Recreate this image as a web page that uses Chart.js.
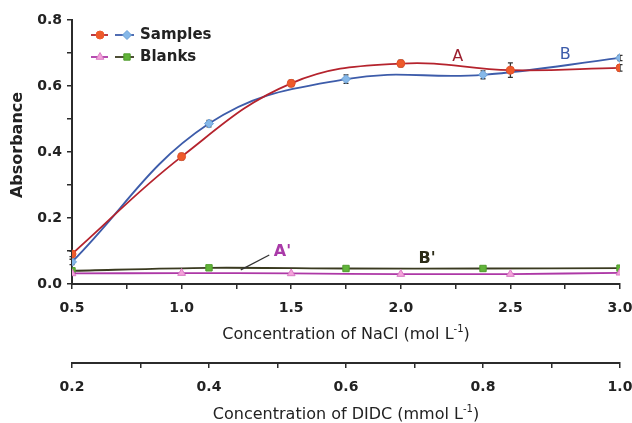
<!DOCTYPE html>
<html><head><meta charset="utf-8">
<script src="https://cdn.jsdelivr.net/npm/chart.js@4.4.0/dist/chart.umd.min.js"></script>
<style>html,body{margin:0;padding:0;background:#fff}#wrap{width:632px;height:423px;position:relative}</style>
</head><body><div id="wrap"><canvas id="c" width="632" height="423"></canvas></div>
<script>
// ---- data ----
const naclConc = [0.5, 1.0, 1.5, 2.0, 2.5, 3.0];          // NaCl, mol L-1 (series A, A')
const didcConc = [0.2, 0.4, 0.6, 0.8, 1.0];                // DIDC, mmol L-1 (series B, B')
const samplesA = [0.091, 0.386, 0.608, 0.668, 0.648, 0.655];
const errA     = [0.008, 0.010, 0.010, 0.010, 0.022, 0.010];
const samplesB = [0.067, 0.486, 0.621, 0.634, 0.685];
const errB     = [0.008, 0.010, 0.013, 0.012, 0.008];
const blanksA  = [0.032, 0.033, 0.032, 0.030, 0.030, 0.034];
const blanksB  = [0.040, 0.049, 0.047, 0.047, 0.048];
const naclTicks = [0.5, 1.0, 1.5, 2.0, 2.5, 3.0];
const didcTicks = [0.2, 0.4, 0.6, 0.8, 1.0];
const yTicks    = [0.0, 0.2, 0.4, 0.6, 0.8];
const legendRows = ['Samples', 'Blanks'];
const curveLabels = ['A', 'B', "A'", "B'"];
const titleNaCl = ['Concentration of NaCl (mol L', '-1', ')'];
const titleDIDC = ['Concentration of DIDC (mmol L', '-1', ')'];
const titleY = 'Absorbance';

// ---- styles ----
const AX = '#2b2b2b';
const C = {
  aLine: '#b5232d', aPt: '#ee5a2a',
  bLine: '#3d5caa', bPt: '#86b8e8',
  apLine: '#ad38a6', apPt: '#f4a2da',
  bpLine: '#3a3a20', bpPt: '#62b43a'
};
const TICKFONT = {family: 'DejaVu Sans', weight: 'bold', size: 14};
const pts = (xs, ys) => xs.map((x, i) => ({x: x, y: ys[i]}));
const near = (arr, v) => arr.some(t => Math.abs(t - v) < 1e-6);

function axisCommon() {
  return {
    grid: {drawOnChartArea: false, drawTicks: true, tickLength: 5, color: AX, lineWidth: 1.5},
    border: {color: AX, width: 2},
  };
}

const extras = {
  id: 'extras',
  beforeDatasetsDraw(chart) {
    const ctx = chart.ctx, y = chart.scales.y;
    // error bars
    const eb = (xs, ys, es, sc) => {
      ctx.save(); ctx.strokeStyle = '#333'; ctx.lineWidth = 1.3;
      xs.forEach((xv, i) => {
        const px = sc.getPixelForValue(xv);
        const t = y.getPixelForValue(ys[i] + es[i]), b = y.getPixelForValue(ys[i] - es[i]);
        ctx.beginPath();
        ctx.moveTo(px, t); ctx.lineTo(px, b);
        ctx.moveTo(px - 2.5, t); ctx.lineTo(px + 2.5, t);
        ctx.moveTo(px - 2.5, b); ctx.lineTo(px + 2.5, b);
        ctx.stroke();
      });
      ctx.restore();
    };
    eb(naclConc, samplesA, errA, chart.scales.x);
    eb(didcConc, samplesB, errB, chart.scales.x2);
  },
  afterDraw(chart) {
    const ctx = chart.ctx, x = chart.scales.x, y = chart.scales.y;
    const ca = chart.chartArea;
    const cx = (ca.left + ca.right) / 2;
    ctx.save();
    // axis titles with superscripts
    const supTitle = (parts, cy) => {
      const f = '16px "DejaVu Sans"', fs = '10px "DejaVu Sans"';
      ctx.font = f; const w1 = ctx.measureText(parts[0]).width, w3 = ctx.measureText(parts[2]).width;
      ctx.font = fs; const w2 = ctx.measureText(parts[1]).width;
      let sx = cx - (w1 + w2 + w3) / 2;
      ctx.fillStyle = '#222'; ctx.textBaseline = 'middle'; ctx.textAlign = 'left';
      ctx.font = f; ctx.fillText(parts[0], sx, cy);
      ctx.font = fs; ctx.fillText(parts[1], sx + w1, cy - 6);
      ctx.font = f; ctx.fillText(parts[2], sx + w1 + w2, cy);
    };
    supTitle(titleNaCl, 335);
    supTitle(titleDIDC, 415);
    // y title
    ctx.save();
    ctx.translate(18, 145); ctx.rotate(-Math.PI / 2);
    ctx.font = 'bold 16px "DejaVu Sans"'; ctx.fillStyle = '#222';
    ctx.textAlign = 'center'; ctx.textBaseline = 'middle';
    ctx.fillText(titleY, 0, 0);
    ctx.restore();

    // curve labels
    const lab = (t, xv, yv, col, bold) => {
      ctx.font = (bold ? 'bold ' : '') + '16px "DejaVu Sans"';
      ctx.fillStyle = col; ctx.textAlign = 'center'; ctx.textBaseline = 'middle';
      ctx.fillText(t, x.getPixelForValue(xv), y.getPixelForValue(yv));
    };
    lab(curveLabels[0], 2.26, 0.688, '#9c1f2e', false);
    lab(curveLabels[1], 2.75, 0.694, C.bLine, false);
    lab(curveLabels[2], 1.46, 0.097, '#a93aa8', true);
    lab(curveLabels[3], 2.12, 0.076, '#2d2d18', true);
    // leader line for A'
    ctx.strokeStyle = '#333'; ctx.lineWidth = 1.3;
    ctx.beginPath();
    ctx.moveTo(x.getPixelForValue(1.27), y.getPixelForValue(0.043));
    ctx.lineTo(x.getPixelForValue(1.40), y.getPixelForValue(0.088));
    ctx.stroke();

    // legend
    const mark = (style, px, py, fill, stroke, r) => {
      ctx.fillStyle = fill; ctx.strokeStyle = stroke; ctx.lineWidth = 1;
      Chart.helpers.drawPoint(ctx, {pointStyle: style, radius: r, rotation: 0, borderWidth: 1}, px, py);
    };
    const seg = (x1, x2, py, col) => {
      ctx.strokeStyle = col; ctx.lineWidth = 1.8;
      ctx.beginPath(); ctx.moveTo(x1, py); ctx.lineTo(x2, py); ctx.stroke();
    };
    const rowY = [35, 57];
    seg(91, 108, rowY[0], C.aLine); mark('circle', 100, rowY[0], C.aPt, C.aPt, 4);
    seg(115, 134, rowY[0], C.bLine); mark('rectRot', 127, rowY[0], C.bPt, '#6a9fd6', 4.5);
    seg(91, 108, rowY[1], C.apLine); mark('triangle', 100, rowY[1], C.apPt, '#d97cc4', 4.5);
    seg(115, 134, rowY[1], C.bpLine); mark('rect', 127, rowY[1], C.bpPt, '#4f9c2c', 4.5);
    ctx.font = 'bold 15px "DejaVu Sans"'; ctx.fillStyle = '#222';
    ctx.textAlign = 'left'; ctx.textBaseline = 'middle';
    ctx.fillText(legendRows[0], 140, rowY[0]);
    ctx.fillText(legendRows[1], 140, rowY[1]);
    ctx.restore();
  }
};

new Chart(document.getElementById('c'), {
  type: 'line',
  data: {
    datasets: [
      {label: 'A', data: pts(naclConc, samplesA), xAxisID: 'x', yAxisID: 'y',
        borderColor: C.aLine, backgroundColor: C.aPt, pointBackgroundColor: C.aPt, pointBorderColor: '#e0502a',
        pointStyle: 'circle', pointRadius: 4, pointBorderWidth: 1, borderWidth: 1.8, tension: 0.4, fill: false},
      {label: 'B', data: pts(didcConc, samplesB), xAxisID: 'x2', yAxisID: 'y',
        borderColor: C.bLine, backgroundColor: C.bPt, pointBackgroundColor: C.bPt, pointBorderColor: '#6a9fd6',
        pointStyle: 'rectRot', pointRadius: 4.5, pointBorderWidth: 1, borderWidth: 1.8, tension: 0.4, fill: false},
      {label: "A'", data: pts(naclConc, blanksA), xAxisID: 'x', yAxisID: 'y',
        borderColor: C.apLine, backgroundColor: C.apPt, pointBackgroundColor: C.apPt, pointBorderColor: '#d97cc4',
        pointStyle: 'triangle', pointRadius: 4.5, pointBorderWidth: 1, borderWidth: 1.8, tension: 0.3, fill: false},
      {label: "B'", data: pts(didcConc, blanksB), xAxisID: 'x2', yAxisID: 'y',
        borderColor: C.bpLine, backgroundColor: C.bpPt, pointBackgroundColor: C.bpPt, pointBorderColor: '#4f9c2c',
        pointStyle: 'rect', pointRadius: 4.5, pointBorderWidth: 1, borderWidth: 1.8, tension: 0.3, fill: false}
    ]
  },
  options: {
    responsive: false, animation: false, devicePixelRatio: 1,
    layout: {padding: {left: 0, right: 0, top: 20, bottom: 0}},
    plugins: {legend: {display: false}, tooltip: {enabled: false}},
    scales: {
      x: Object.assign(axisCommon(), {
        type: 'linear', position: 'bottom', weight: 0, min: 0.5, max: 3.0,
        ticks: {stepSize: 0.25, autoSkip: false, maxRotation: 0, padding: 11, font: TICKFONT, color: '#222',
          callback: v => near(naclTicks, v) ? v.toFixed(1) : ''},
        afterFit: s => { s.height = 79; s.paddingRight = 12; s.paddingLeft = 0; }
      }),
      x2: Object.assign(axisCommon(), {
        type: 'linear', position: 'bottom', weight: 1, min: 0.2, max: 1.0,
        ticks: {stepSize: 0.1, autoSkip: false, maxRotation: 0, padding: 11, font: TICKFONT, color: '#222',
          callback: v => near(didcTicks, v) ? v.toFixed(1) : ''},
        afterFit: s => { s.height = 60; s.paddingRight = 12; s.paddingLeft = 0; }
      }),
      y: Object.assign(axisCommon(), {
        type: 'linear', position: 'left', min: 0, max: 0.8,
        ticks: {stepSize: 0.1, autoSkip: false, padding: 5, font: TICKFONT, color: '#222',
          callback: v => near(yTicks, v) ? v.toFixed(1) : ''},
        afterFit: s => { s.width = 72; }
      })
    }
  },
  plugins: [extras]
});
</script>
</body></html>
